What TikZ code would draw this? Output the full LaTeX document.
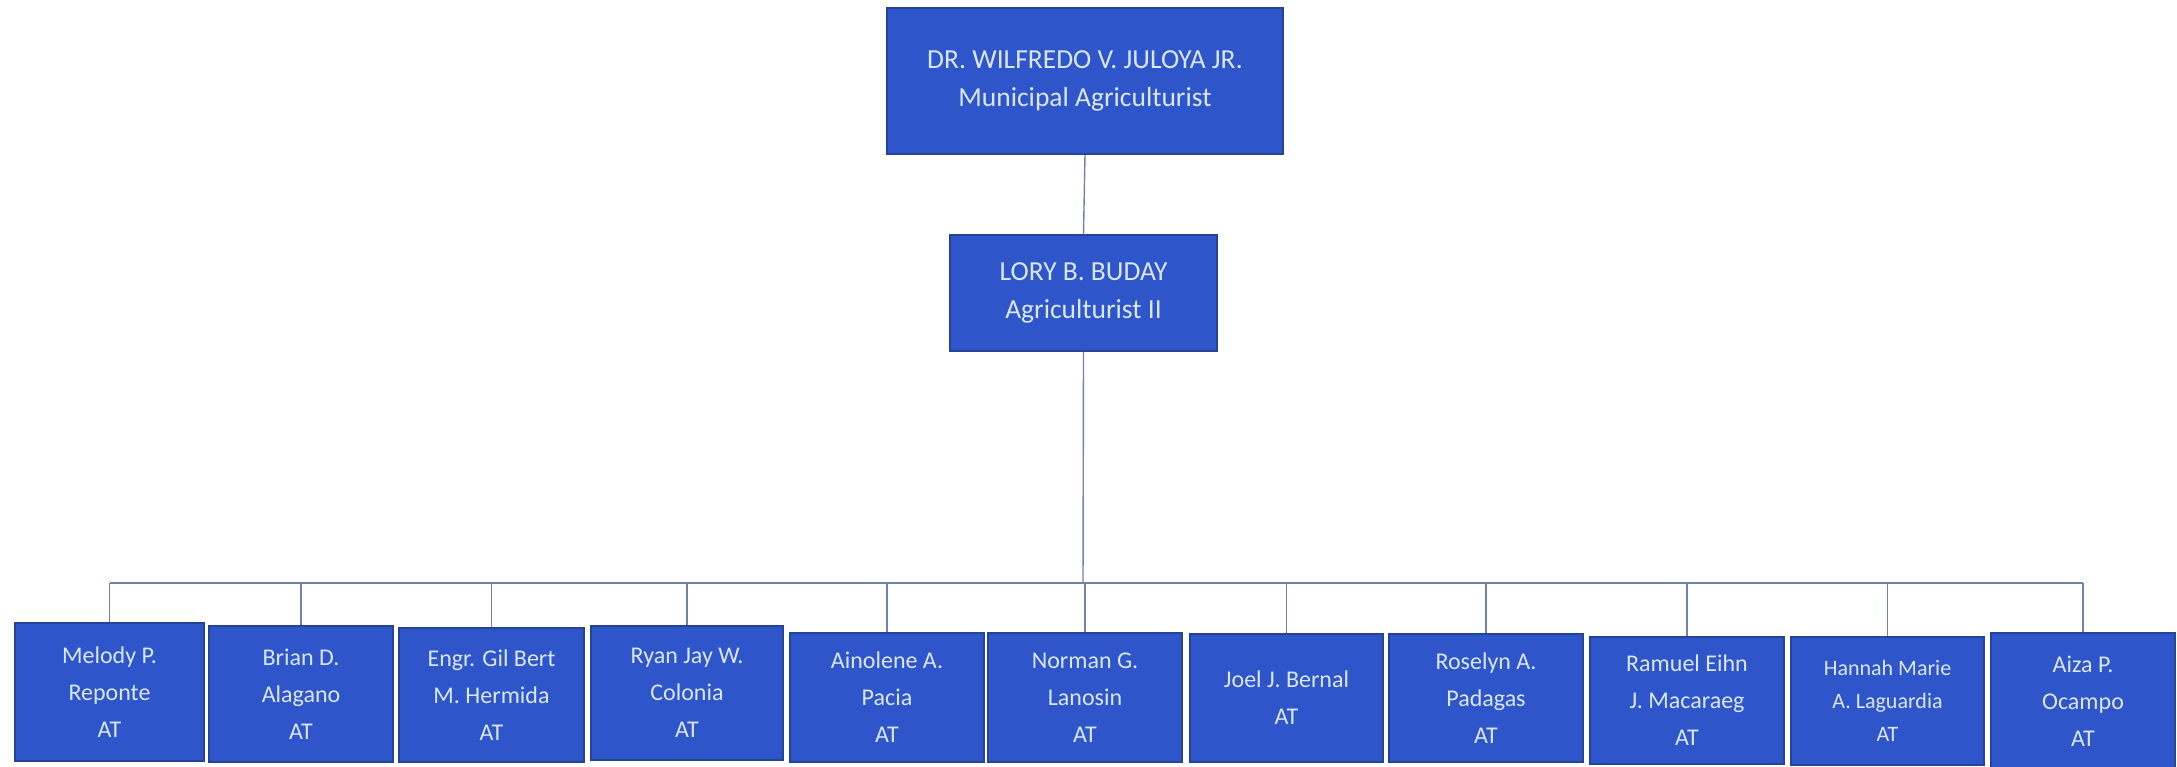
\documentclass[tikz,border=0pt]{standalone}
\usepackage{fontspec}
\setmainfont{Carlito}
\definecolor{boxfill}{RGB}{46,86,202}
\definecolor{boxedge}{RGB}{38,68,150}
\definecolor{boxtext}{RGB}{218,230,250}
\definecolor{linkline}{RGB}{112,130,168}
\begin{document}
\begin{tikzpicture}[x=1pt,y=-1pt,
  orgbox/.style={rectangle, fill=boxfill, draw=boxedge, line width=1.6pt,
    text=boxtext, align=center, inner sep=0pt, font=\fontsize{24}{37}\selectfont},
  headbox/.style={orgbox, font=\fontsize{27.5}{38}\selectfont},
  link/.style={draw=linkline, line width=1.4pt}]
\useasboundingbox (0,0) rectangle (2177,767);

% top of the office
\node[headbox, minimum width=396pt, minimum height=146pt] (head) at (1085,81)
  {DR. WILFREDO V. JULOYA JR.\\Municipal Agriculturist};
\node[headbox, minimum width=267pt, minimum height=116pt] (deputy) at (1083.5,293)
  {LORY B. BUDAY\\Agriculturist II};

% agricultural technicians
\node[orgbox, minimum width=189pt, minimum height=138pt] (t1) at (109.5,692) {Melody P.\\Reponte\\AT};
\node[orgbox, minimum width=184pt, minimum height=136pt] (t2) at (301,694) {Brian D.\\Alagano\\AT};
\node[orgbox, minimum width=185pt, minimum height=134pt] (t3) at (491.5,695) {Engr. Gil Bert\\M. Hermida\\AT};
\node[orgbox, minimum width=192pt, minimum height=134pt] (t4) at (687,693) {Ryan Jay W.\\Colonia\\AT};
\node[orgbox, minimum width=194pt, minimum height=129pt] (t5) at (887,697.5) {Ainolene A.\\Pacia\\AT};
\node[orgbox, minimum width=194pt, minimum height=129pt] (t6) at (1085,697.5) {Norman G.\\Lanosin\\AT};
\node[orgbox, minimum width=193pt, minimum height=128pt] (t7) at (1286.5,698) {Joel J. Bernal\\AT};
\node[orgbox, minimum width=194pt, minimum height=128pt] (t8) at (1486,698) {Roselyn A.\\Padagas\\AT};
\node[orgbox, minimum width=194pt, minimum height=127pt] (t9) at (1687,700.5) {Ramuel Eihn\\J. Macaraeg\\AT};
\node[orgbox, minimum width=193pt, minimum height=128pt, font=\fontsize{22}{33}\selectfont] (t10) at (1887.5,701) {Hannah Marie\\A. Laguardia\\AT};
\node[orgbox, minimum width=184pt, minimum height=136pt] (t11) at (2083,701) {Aiza P.\\Ocampo\\AT};

% reporting lines
\coordinate (bus) at (1083,583);
\draw[link] (head.south) -- (deputy.north);
\draw[link] (deputy.south) -- (bus);
\draw[link] (t1.north |- bus) -- (t11.north |- bus);
\foreach \t in {t1,t2,t3,t4,t5,t6,t7,t8,t9,t10,t11}
  \draw[link] (\t.north |- bus) -- (\t.north);
\end{tikzpicture}
\end{document}
